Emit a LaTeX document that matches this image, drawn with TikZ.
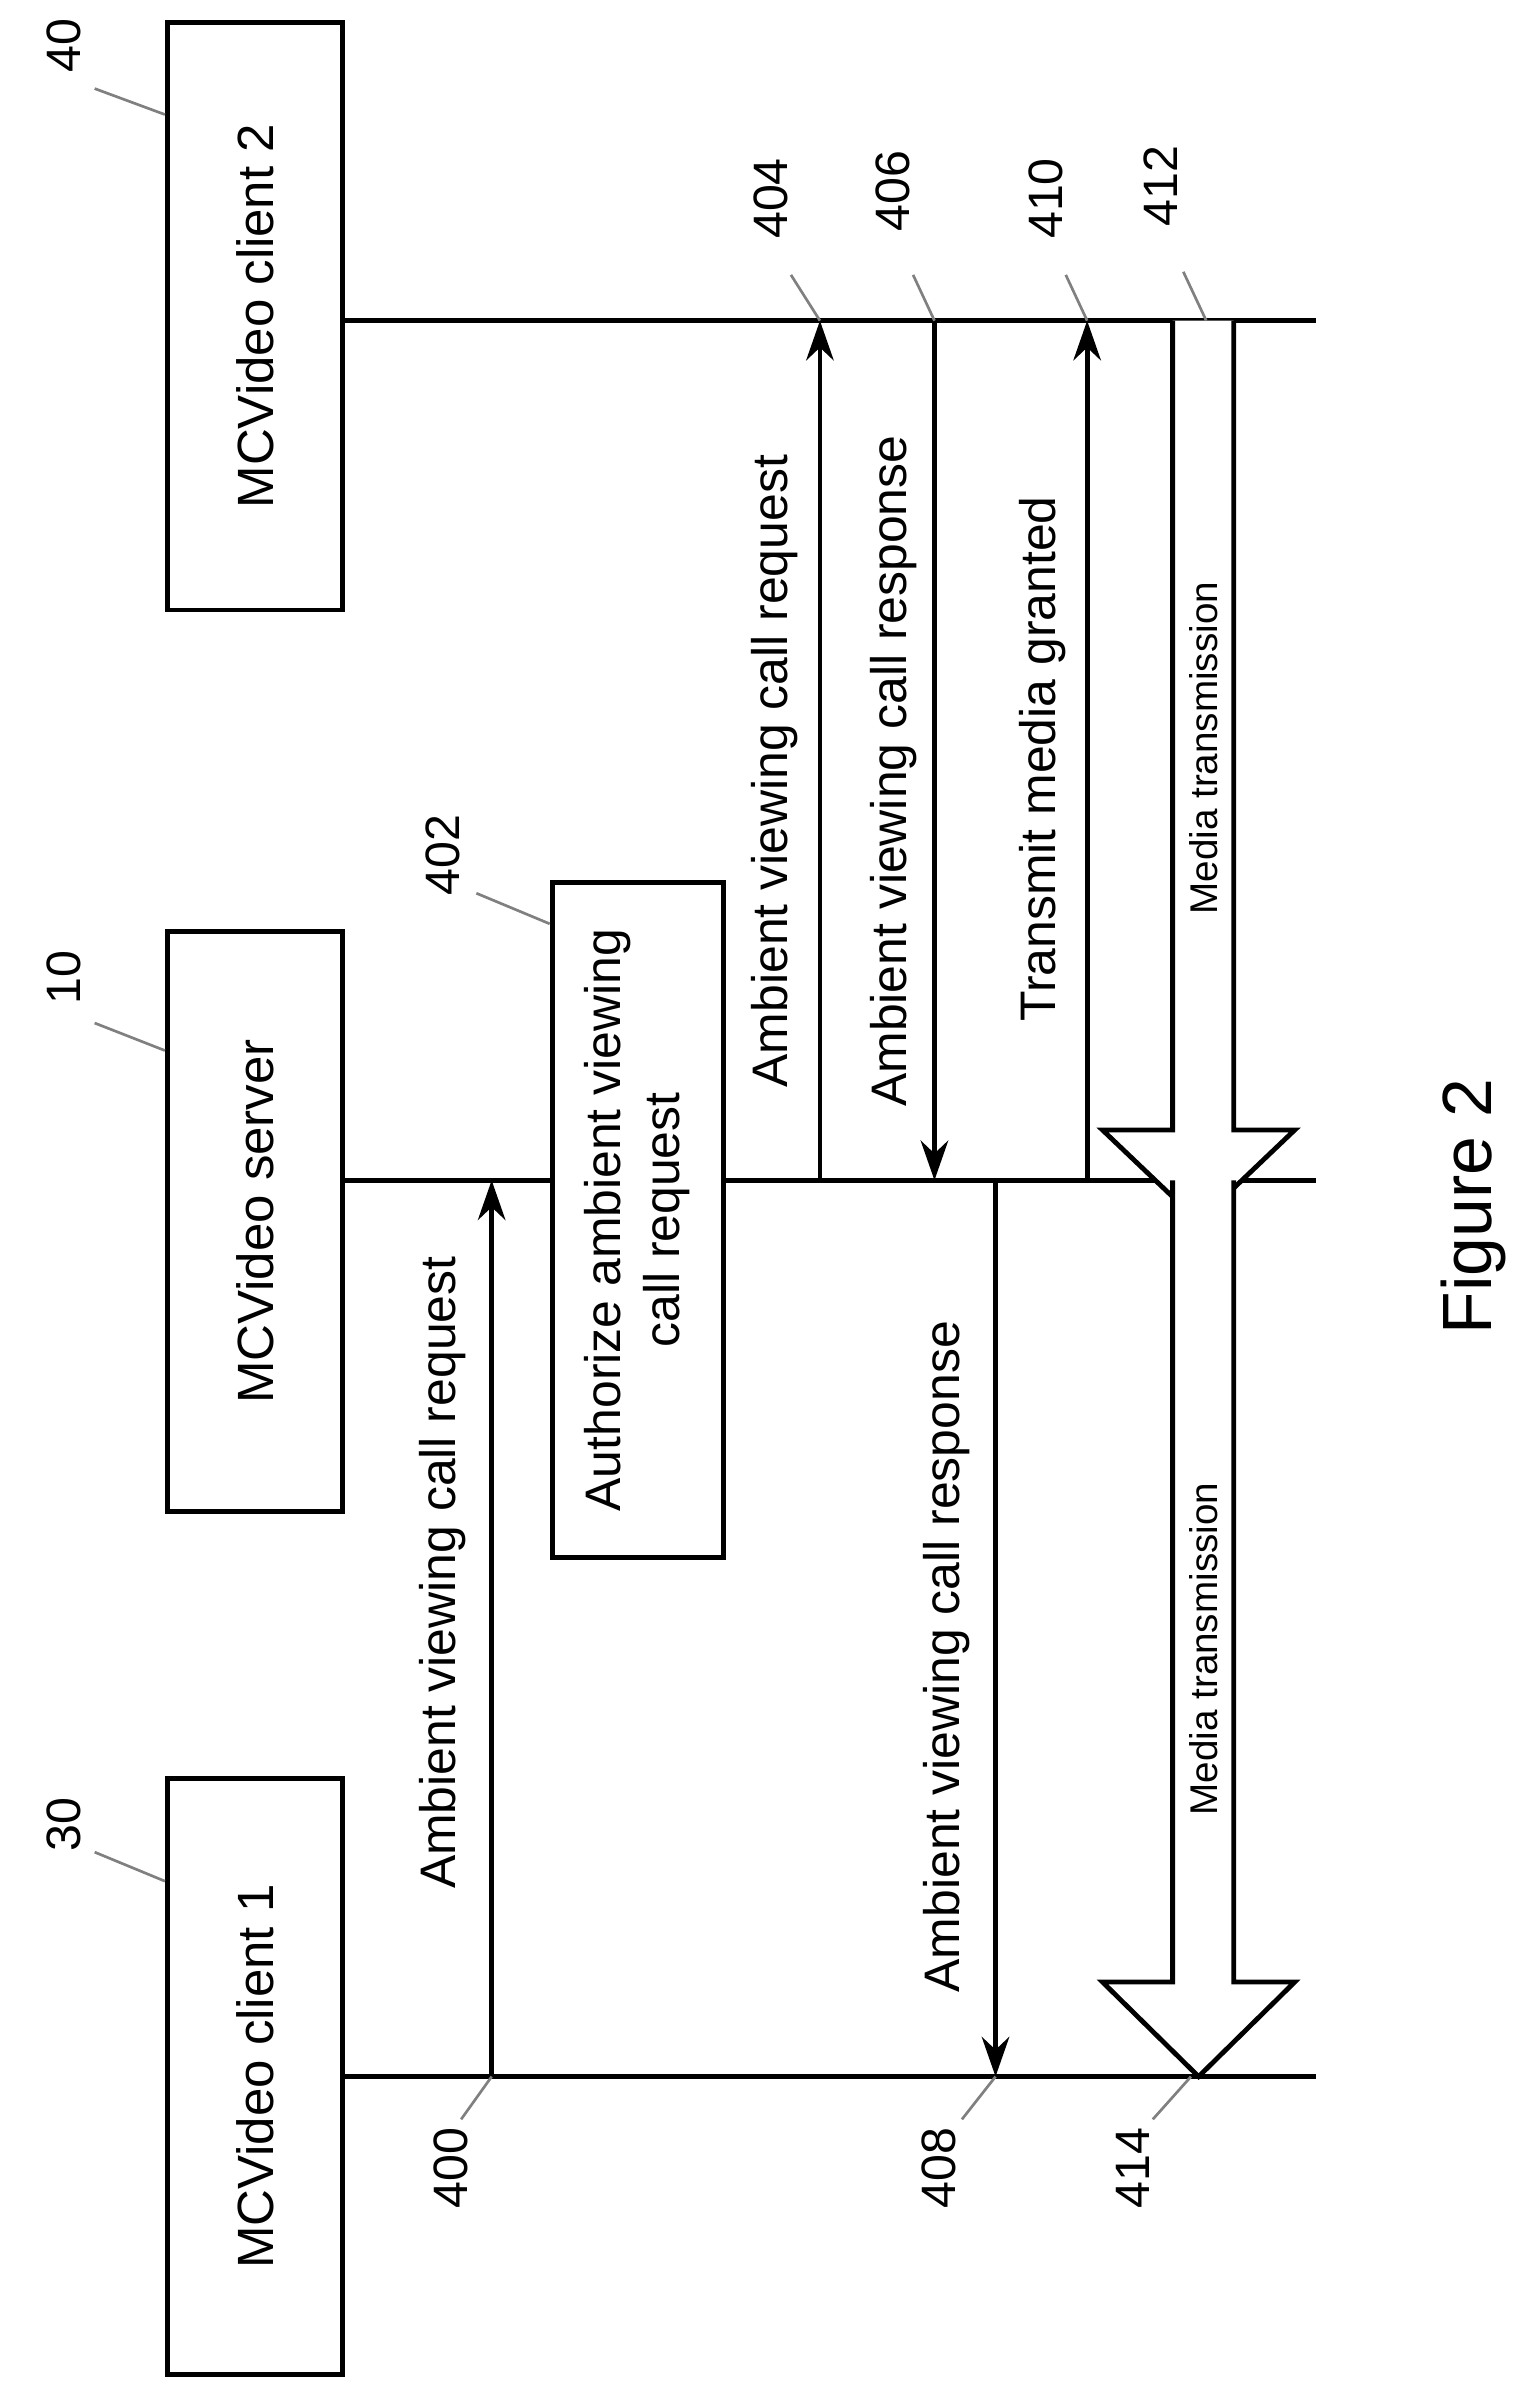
\documentclass[tikz,border=0pt]{standalone}
\usepackage{fontspec}
\setmainfont{Liberation Sans}
\usetikzlibrary{arrows.meta,positioning}

\begin{document}
\begin{tikzpicture}[x=0.1mm,y=-0.1mm,line width=0.9pt,
    ent/.style={draw,rectangle,minimum width=11.5mm,inner sep=0pt,font=\fontsize{9.5}{11}\selectfont},
    lbl/.style={rotate=90,font=\fontsize{9.3}{11}\selectfont},
    small/.style={rotate=90,font=\fontsize{7.2}{9}\selectfont},
    num/.style={rotate=90,font=\fontsize{9}{11}\selectfont},
    lead/.style={line width=0.5pt,gray},
    msg/.style={-{Stealth[length=2.6mm,width=1.8mm]}},
    fat/.style={draw,fill=white,line width=0.9pt}]

  \useasboundingbox (0,0) rectangle (1000,1562);

  % entities
  \node[ent,minimum height=38.5mm] (c2) at (167,207) {\rotatebox{90}{MCVideo client 2}};
  \node[ent,minimum height=38mm]   (srv) at (167,800) {\rotatebox{90}{MCVideo server}};
  \node[ent,minimum height=39mm]   (c1) at (167,1360) {\rotatebox{90}{MCVideo client 1}};

  \node[num] (n40) at (42,30) {40};
  \node[num] (n10) at (42,640) {10};
  \node[num] (n30) at (42,1195) {30};
  \draw[lead] (62,58) -- (108,75);
  \draw[lead] (62,670) -- (108,688);
  \draw[lead] (62,1213) -- (108,1232);

  % lifelines
  \coordinate (l2) at (862,210);
  \coordinate (ls) at (862,773);
  \coordinate (l1) at (862,1360);
  \draw (225,210) -- (l2);
  \draw (225,773) -- (362,773);
  \draw (474,773) -- (ls);
  \draw (225,1360) -- (l1);

  % authorize box
  \node[draw,minimum width=11.2mm,minimum height=44.2mm,inner sep=0pt,
        font=\fontsize{9.3}{11}\selectfont] (auth) at (418,799)
        {\rotatebox{90}{\begin{tabular}{c}Authorize ambient viewing\\call request\end{tabular}}};
  \node[num] (n402) at (290,560) {402};
  \draw[lead] (312,585) -- (360,605);

  % messages
  \coordinate (a400s) at (322,1360); \coordinate (a400e) at (322,773);
  \draw[msg] (a400s) -- (a400e);
  \node[lbl] at (290,1030) {Ambient viewing call request};
  \node[num] (n400) at (295,1420) {400};
  \draw[lead] (302,1388) -- (322,1360);

  \coordinate (a404s) at (537,773); \coordinate (a404e) at (537,210);
  \draw[msg] (a404s) -- (a404e);
  \node[lbl] at (507,505) {Ambient viewing call request};
  \node[num] (n404) at (505,130) {404};
  \draw[lead] (518,180) -- (537,210);

  \coordinate (a406s) at (612,210); \coordinate (a406e) at (612,773);
  \draw[msg] (a406s) -- (a406e);
  \node[lbl] at (585,505) {Ambient viewing call response};
  \node[num] (n406) at (585,125) {406};
  \draw[lead] (598,180) -- (612,210);

  \coordinate (a408s) at (652,773); \coordinate (a408e) at (652,1360);
  \draw[msg] (a408s) -- (a408e);
  \node[lbl] at (620,1085) {Ambient viewing call response};
  \node[num] (n408) at (615,1420) {408};
  \draw[lead] (630,1388) -- (652,1360);

  \coordinate (a410s) at (712,773); \coordinate (a410e) at (712,210);
  \draw[msg] (a410s) -- (a410e);
  \node[lbl] at (683,497) {Transmit media granted};
  \node[num] (n410) at (685,130) {410};
  \draw[lead] (698,180) -- (712,210);

  % media transmission
  \draw[fat] (768,210) -- (768,740) -- (722,740) -- (785,800) -- (848,740) -- (808,740) -- (808,210);
  \node[small] at (788,490) {Media transmission};
  \node[num] (n412) at (760,122) {412};
  \draw[lead] (775,178) -- (790,210);

  \draw[fat] (768,773) -- (768,1298) -- (722,1298) -- (785,1360) -- (848,1298) -- (808,1298) -- (808,773);
  \node[small] at (788,1080) {Media transmission};
  \node[num] (n414) at (742,1420) {414};
  \draw[lead] (755,1388) -- (780,1360);

  \node[rotate=90,font=\fontsize{13}{15}\selectfont] (fig) at (965,790) {Figure 2};
\end{tikzpicture}
\end{document}
